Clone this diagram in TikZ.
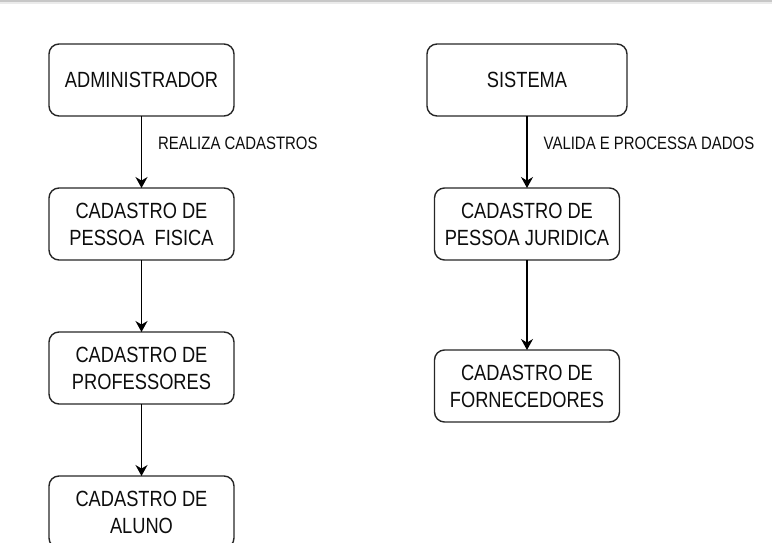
\documentclass[tikz,border=0pt]{standalone}
\usepackage{fontspec}
\setmainfont[FakeStretch=0.83]{Liberation Sans}
\usepackage{tikz}
\usetikzlibrary{positioning,shapes,arrows.meta,calc}
\tikzset{%
	block/.style    = {draw=black!85, rectangle, rounded corners=10pt, line width=1.4pt,
		minimum height = 72pt, minimum width = 185pt, align=center, outer sep=0pt,
		text=black!95, font=\fontsize{22}{27}\selectfont},
	lbl/.style      = {font=\fontsize{18}{21}\selectfont, anchor=west, inner sep=0pt,
		xshift=16pt, text=black!95}
}

\begin{document}
\begin{tikzpicture}[x=1pt, y=1pt, line width=1.4pt,
	>={Stealth[length=11pt,width=12pt]}]
	\useasboundingbox (0,0) rectangle (772,-543);
	% top edge shadow
	\fill[black!22] (0,0) rectangle (772,-2);
	\fill[black!8] (0,-2) rectangle (772,-4);
	\draw
	node at (141.5,-80)[block] (adm) {ADMINISTRADOR}
	node [block, below=72pt of adm] (fisica) {CADASTRO DE\\PESSOA\ \ FISICA}
	node [block, below=72pt of fisica] (prof) {CADASTRO DE\\PROFESSORES}
	node [block, below=72pt of prof] (aluno) {CADASTRO DE\\ALUNO}
	node at (527,-80)[block, minimum width=200pt] (sis) {SISTEMA}
	node [block, below=72pt of sis] (juridica) {CADASTRO DE\\PESSOA JURIDICA}
	node [block, below=90pt of juridica] (forn) {CADASTRO DE\\FORNECEDORES};
	
	\draw[->](adm) -- node[lbl, pos=0.375] {REALIZA CADASTROS} (fisica);
	\draw[->](fisica) -- (prof);
	\draw[->](prof) -- (aluno);
	\draw[->](sis) -- node[lbl, pos=0.375] {VALIDA E PROCESSA DADOS} (juridica);
	\draw[->](juridica) -- (forn);
	
\end{tikzpicture}
\end{document}
